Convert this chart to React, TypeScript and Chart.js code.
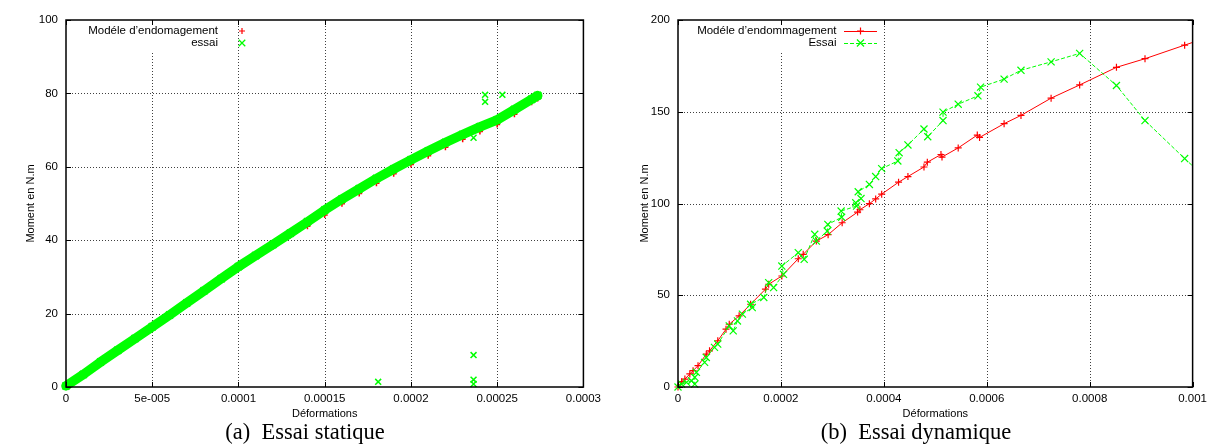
import React, { useEffect, useRef } from 'react';
import { Chart, registerables } from 'chart.js';
Chart.register(...registerables);

// ---------- (a) Essai statique ----------
const staticStrain = [0, 0.00001, 0.00002, 0.00003, 0.00004, 0.00005, 0.00006, 0.00007, 0.00008, 0.00009, 0.0001, 0.00011, 0.00012, 0.00013, 0.00014, 0.00015, 0.00016, 0.00017, 0.00018, 0.00019, 0.0002, 0.00021, 0.00022, 0.00023, 0.00024, 0.00025, 0.00026, 0.00027, 0.0002735];
const staticTest = [0.3, 3.4, 6.8, 10.0, 13.2, 16.4, 19.6, 22.9, 26.2, 29.5, 32.8, 35.8, 38.8, 41.9, 45.0, 48.2, 51.2, 54.0, 56.8, 59.4, 61.9, 64.3, 66.6, 68.8, 70.9, 72.8, 75.6, 78.4, 79.4];
const staticModel = [0, 3.1, 6.5, 9.7, 12.9, 16.1, 19.2, 22.5, 25.8, 29.1, 32.4, 35.4, 38.3, 41.3, 43.8, 46.9, 49.9, 52.7, 55.5, 58.1, 60.6, 63.0, 65.3, 67.5, 69.6, 71.5, 74.3, 77.6, 78.6];
const staticOutStrain = [0.000243, 0.000243, 0.000253, 0.0002363, 0.0002363, 0.0002363, 0.0002363, 0.000181];
const staticOutMoment = [79.6, 77.7, 79.6, 67.9, 8.7, 2.0, 0.8, 1.4];
const staticXTicks = [0, 0.00005, 0.0001, 0.00015, 0.0002, 0.00025, 0.0003];
const staticXLabels = ['0', '5e-005', '0.0001', '0.00015', '0.0002', '0.00025', '0.0003'];
const staticYTicks = [0, 20, 40, 60, 80, 100];

// ---------- (b) Essai dynamique ----------
const dynModelStrain = [0, 0.0000071, 0.0000134, 0.000023, 0.0000293, 0.0000389, 0.000055, 0.0000613, 0.0000773, 0.0000933, 0.0000996, 0.0001188, 0.0001411, 0.0001699, 0.0001762, 0.0002018, 0.0002337, 0.0002433, 0.0002688, 0.0002917, 0.000319, 0.000349, 0.0003535, 0.0003719, 0.0003841, 0.0003958, 0.0004286, 0.0004468, 0.000478, 0.0004845, 0.000511, 0.000513, 0.0005445, 0.0005816, 0.000586, 0.0006337, 0.0006665, 0.000725, 0.0007805, 0.000852, 0.0009075, 0.0009845, 0.00106];
const dynModelMoment = [0, 2.9, 4.3, 7.1, 8.9, 11.6, 17.9, 19.7, 25.2, 31.5, 34.2, 38.8, 45.1, 53.3, 56.0, 60.5, 69.9, 72.3, 79.5, 83.0, 89.5, 95.3, 96.6, 99.9, 102.5, 105.1, 111.6, 114.7, 119.9, 122.5, 126.7, 125.3, 130.3, 137.3, 136.0, 143.5, 148.0, 157.4, 164.6, 174.2, 178.9, 186.3, 193.5];
const dynTestStrain = [0, 0.000007, 0.0000166, 0.0000262, 0.0000326, 0.0000326, 0.0000358, 0.0000517, 0.000055, 0.0000709, 0.0000772, 0.0000996, 0.0001073, 0.0001155, 0.0001251, 0.0001443, 0.0001411, 0.0001667, 0.0001762, 0.0001858, 0.000205, 0.0002018, 0.0002337, 0.0002452, 0.0002657, 0.0002688, 0.00029, 0.0002912, 0.000318, 0.000317, 0.000347, 0.0003454, 0.0003556, 0.0003502, 0.0003719, 0.0003841, 0.0003958, 0.0004272, 0.0004297, 0.0004468, 0.000478, 0.0004853, 0.000515, 0.000515, 0.0005445, 0.0005829, 0.000588, 0.0006337, 0.0006665, 0.000725, 0.0007805, 0.000852, 0.0009075, 0.0009845, 0.00106];
const dynTestMoment = [0, 1.6, 2.5, 3.4, 1.6, 5.3, 8.0, 13.4, 16.1, 21.6, 23.4, 33.3, 30.6, 36.0, 39.7, 43.3, 45.1, 48.8, 56.9, 54.2, 61.4, 65.9, 73.2, 69.6, 83.2, 79.5, 85.0, 88.6, 92.5, 95.9, 98.6, 100.4, 102.7, 106.4, 110.4, 114.7, 119.0, 123.2, 127.7, 131.9, 140.6, 136.4, 145.2, 149.8, 154.1, 158.7, 163.4, 167.8, 172.6, 177.2, 181.8, 164.3, 145.2, 124.5, 105.0];
const dynXTicks = [0, 0.0002, 0.0004, 0.0006, 0.0008, 0.001];
const dynXLabels = ['0', '0.0002', '0.0004', '0.0006', '0.0008', '0.001'];
const dynYTicks = [0, 50, 100, 150, 200];

const RED = '#ff0000';
const GREEN = '#00ff00';
const SANS = '"Liberation Sans", Arial, Helvetica, sans-serif';
const W = 606;
const H = 424;

const pts = (xs: number[], ys: number[]) => xs.map((x, i) => ({ x, y: ys[i] }));

function drawMarker(ctx: CanvasRenderingContext2D, style: string, x: number, y: number, r: number, color: string, lw: number) {
  ctx.save();
  ctx.strokeStyle = color;
  ctx.lineWidth = lw;
  ctx.setLineDash([]);
  ctx.beginPath();
  if (style === 'cross') {
    ctx.moveTo(x - r, y); ctx.lineTo(x + r, y);
    ctx.moveTo(x, y - r); ctx.lineTo(x, y + r);
  } else {
    const d = r * Math.SQRT1_2;
    ctx.moveTo(x - d, y - d); ctx.lineTo(x + d, y + d);
    ctx.moveTo(x - d, y + d); ctx.lineTo(x + d, y - d);
  }
  ctx.stroke();
  ctx.restore();
}

const gnuplotPlugin = {
  id: 'gnu',
  beforeDatasetsDraw(chart: any, _a: any, opts: any) {
    const { ctx, chartArea: a, scales } = chart;
    ctx.save();
    ctx.strokeStyle = 'rgba(0,0,0,0.75)';
    ctx.lineWidth = 1;
    ctx.setLineDash([1, 2]);
    ctx.beginPath();
    opts.xTicks.forEach((v: number) => {
      const px = Math.round(scales.x.getPixelForValue(v)) + 0.5;
      if (px <= a.left + 2 || px >= a.right - 2) return;
      ctx.moveTo(px, a.bottom); ctx.lineTo(px, a.top);
    });
    opts.yTicks.forEach((v: number) => {
      const py = Math.round(scales.y.getPixelForValue(v)) + 0.5;
      if (py <= a.top + 2 || py >= a.bottom - 2) return;
      ctx.moveTo(a.left, py); ctx.lineTo(a.right, py);
    });
    ctx.stroke();
    ctx.restore();
  },
  afterDatasetsDraw(chart: any, _a: any, opts: any) {
    const { ctx, chartArea: a, scales } = chart;
    const L = opts.legend;
    ctx.save();
    // key
    ctx.fillStyle = '#fff';
    ctx.fillRect(L.boxLeft, a.top + 2, L.textRight + 3 - L.boxLeft, 29);
    ctx.font = '11.5px ' + SANS;
    ctx.textAlign = 'right';
    ctx.textBaseline = 'middle';
    L.rows.forEach((r: any, i: number) => {
      const yy = L.top + i * 12;
      ctx.fillStyle = '#000';
      ctx.fillText(r.label, L.textRight, yy);
      if (r.line) {
        ctx.strokeStyle = r.color;
        ctx.lineWidth = 1;
        ctx.setLineDash(r.dash || []);
        ctx.beginPath();
        ctx.moveTo(L.sampleLeft, yy + 0.5);
        ctx.lineTo(L.sampleRight, yy + 0.5);
        ctx.stroke();
        ctx.setLineDash([]);
      }
      drawMarker(ctx, r.style, (L.sampleLeft + L.sampleRight) / 2, yy, r.radius, r.color, r.lw);
    });
    // ticks (inward, mirrored)
    ctx.strokeStyle = '#000';
    ctx.lineWidth = 1;
    ctx.beginPath();
    opts.xTicks.forEach((v: number) => {
      const px = Math.round(scales.x.getPixelForValue(v)) + 0.5;
      ctx.moveTo(px, a.bottom); ctx.lineTo(px, a.bottom - 5);
      ctx.moveTo(px, a.top); ctx.lineTo(px, a.top + 5);
    });
    opts.yTicks.forEach((v: number) => {
      const py = Math.round(scales.y.getPixelForValue(v)) + 0.5;
      ctx.moveTo(a.left, py); ctx.lineTo(a.left + 5, py);
      ctx.moveTo(a.right, py); ctx.lineTo(a.right - 5, py);
    });
    ctx.stroke();
    // border
    ctx.lineWidth = 1.5;
    ctx.strokeRect(a.left, a.top, a.right - a.left, a.bottom - a.top);
    ctx.restore();
  },
};

function makeScales(xMax: number, yMax: number, xTicks: number[], xLabels: string[], yTicks: number[], yAxisW: number, yTitlePad: number) {
  const tickFont = { family: SANS, size: 11.5 };
  return {
    x: {
      type: 'linear',
      min: 0,
      max: xMax,
      afterBuildTicks: (s: any) => { s.ticks = xTicks.map((v) => ({ value: v })); },
      afterFit: (s: any) => { s.height = H - 387; },
      grid: { display: false, drawTicks: false },
      border: { display: false },
      ticks: {
        color: '#000', font: tickFont, padding: 5, maxRotation: 0, autoSkip: false,
        callback: (_v: any, i: number) => xLabels[i],
      },
      title: { display: true, text: 'Déformations', color: '#000', font: { family: SANS, size: 11, lineHeight: 1 }, padding: { top: 4.5, bottom: 4.5 } },
    },
    y: {
      type: 'linear',
      min: 0,
      max: yMax,
      afterBuildTicks: (s: any) => { s.ticks = yTicks.map((v) => ({ value: v })); },
      afterFit: (s: any) => { s.width = yAxisW; },
      grid: { display: false, drawTicks: false },
      border: { display: false },
      ticks: { color: '#000', font: tickFont, padding: 8, callback: (v: any) => String(v) },
      title: { display: true, text: 'Moment en N.m', color: '#000', font: { family: SANS, size: 11, lineHeight: 1 }, padding: { top: yTitlePad, bottom: yTitlePad } },
    },
  };
}

function StaticChart() {
  const ref = useRef<HTMLCanvasElement>(null);
  useEffect(() => {
    const chart = new Chart(ref.current as HTMLCanvasElement, {
      type: 'scatter',
      data: {
        datasets: [
          {
            label: 'essai (hors courbe)',
            data: pts(staticOutStrain, staticOutMoment),
            showLine: false,
            pointStyle: 'crossRot',
            pointRadius: 4.2,
            pointBorderWidth: 1.5,
            borderColor: GREEN,
            backgroundColor: GREEN,
            order: 0,
            clip: { left: 6, top: 0, right: 0, bottom: 6 },
          },
          {
            label: 'essai',
            data: pts(staticStrain, staticTest),
            showLine: true,
            borderWidth: 9.5,
            borderColor: GREEN,
            borderJoinStyle: 'round',
            borderCapStyle: 'round',
            pointStyle: 'crossRot',
            pointRadius: 5,
            pointBorderWidth: 2,
            pointBorderColor: GREEN,
            backgroundColor: GREEN,
            order: 1,
            clip: { left: 6, top: 0, right: 0, bottom: 6 },
          },
          {
            label: 'Modéle d’endomagement',
            data: pts(staticStrain, staticModel),
            showLine: false,
            pointStyle: 'cross',
            pointRadius: 3,
            pointBorderWidth: 1.5,
            borderColor: RED,
            backgroundColor: RED,
            order: 2,
            clip: { left: 6, top: 0, right: 0, bottom: 6 },
          },
        ],
      } as any,
      options: {
        animation: false,
        responsive: false,
        maintainAspectRatio: false,
        layout: { padding: { top: 20, right: W - 584, left: 0, bottom: 0 } },
        plugins: {
          legend: { display: false },
          tooltip: { enabled: false },
          gnu: {
            xTicks: staticXTicks,
            yTicks: staticYTicks,
            legend: {
              boxLeft: 85, textRight: 218, top: 31, sampleLeft: 226, sampleRight: 258,
              rows: [
                { label: 'Modéle d’endomagement', color: RED, style: 'cross', radius: 3, lw: 1.2, line: false },
                { label: 'essai', color: GREEN, style: 'crossRot', radius: 4.6, lw: 1.3, line: false },
              ],
            },
          },
        } as any,
        scales: makeScales(0.0003, 100, staticXTicks, staticXLabels, staticYTicks, 66, 25.5) as any,
      },
      plugins: [gnuplotPlugin],
    });
    return () => chart.destroy();
  }, []);
  return <canvas ref={ref} width={W} height={H} style={{ position: 'absolute', left: 0, top: 0, width: W, height: H }} />;
}

function DynamicChart() {
  const ref = useRef<HTMLCanvasElement>(null);
  useEffect(() => {
    const chart = new Chart(ref.current as HTMLCanvasElement, {
      type: 'scatter',
      data: {
        datasets: [
          {
            label: 'Essai',
            data: pts(dynTestStrain, dynTestMoment),
            showLine: true,
            borderWidth: 1,
            borderColor: GREEN,
            borderDash: [4, 2],
            pointStyle: 'crossRot',
            pointRadius: 5,
            pointBorderWidth: 1.2,
            pointBorderColor: GREEN,
            backgroundColor: GREEN,
            order: 0,
            clip: { left: 6, top: 0, right: 0, bottom: 6 },
          },
          {
            label: 'Modéle d’endommagement',
            data: pts(dynModelStrain, dynModelMoment),
            showLine: true,
            borderWidth: 1,
            borderColor: RED,
            pointStyle: 'cross',
            pointRadius: 3.5,
            pointBorderWidth: 1.2,
            pointBorderColor: RED,
            backgroundColor: RED,
            order: 1,
            clip: { left: 6, top: 0, right: 0, bottom: 6 },
          },
        ],
      } as any,
      options: {
        animation: false,
        responsive: false,
        maintainAspectRatio: false,
        layout: { padding: { top: 20, right: W - 594, left: 0, bottom: 0 } },
        plugins: {
          legend: { display: false },
          tooltip: { enabled: false },
          gnu: {
            xTicks: dynXTicks,
            yTicks: dynYTicks,
            legend: {
              boxLeft: 88, textRight: 230.5, top: 31, sampleLeft: 238, sampleRight: 271,
              rows: [
                { label: 'Modéle d’endommagement', color: RED, style: 'cross', radius: 3.5, lw: 1.2, line: true },
                { label: 'Essai', color: GREEN, style: 'crossRot', radius: 5, lw: 1.2, line: true, dash: [4, 2] },
              ],
            },
          },
        } as any,
        scales: makeScales(0.001, 200, dynXTicks, dynXLabels, dynYTicks, 72, 33.5) as any,
      },
      plugins: [gnuplotPlugin],
    });
    return () => chart.destroy();
  }, []);
  return <canvas ref={ref} width={W} height={H} style={{ position: 'absolute', left: W, top: 0, width: W, height: H }} />;
}

const captionStyle: React.CSSProperties = {
  position: 'absolute',
  top: 420,
  width: 340,
  textAlign: 'center',
  fontFamily: '"Liberation Serif", "Times New Roman", Times, serif',
  fontSize: 22.5,
  lineHeight: '23px',
  whiteSpace: 'pre',
  color: '#000',
};

export default function App() {
  return (
    <div style={{ position: 'absolute', left: 0, top: 0, width: 1212, height: 446, background: '#fff', overflow: 'hidden' }}>
      <StaticChart />
      <DynamicChart />
      <div style={{ ...captionStyle, left: 305 - 170 }}>{'(a)  Essai statique'}</div>
      <div style={{ ...captionStyle, left: 916 - 170 }}>{'(b)  Essai dynamique'}</div>
    </div>
  );
}
